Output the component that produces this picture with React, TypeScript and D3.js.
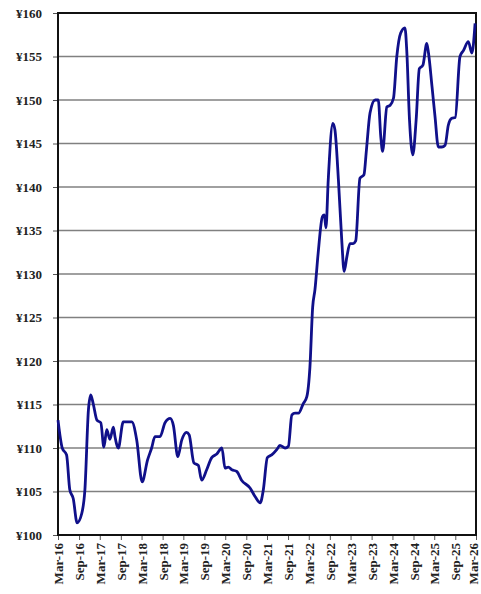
import { useEffect, useRef } from 'react';
import * as d3 from 'd3';

// USD/JPY
const dates = [
  '2016-03-01', '2016-04-07', '2016-05-15', '2016-06-12', '2016-07-12', '2016-08-15', '2016-09-25',
  '2016-10-22', '2016-11-22', '2016-12-12', '2017-01-04', '2017-02-04', '2017-03-10', '2017-04-06',
  '2017-05-01', '2017-05-28', '2017-06-28', '2017-07-12', '2017-08-10', '2017-09-22', '2017-12-06',
  '2018-01-18', '2018-03-06', '2018-04-22', '2018-05-28', '2018-06-26', '2018-08-09', '2018-09-22',
  '2018-11-06', '2018-12-04', '2019-01-12', '2019-02-15', '2019-03-29', '2019-04-21', '2019-06-01',
  '2019-07-10', '2019-08-08', '2019-09-21', '2019-11-04', '2019-12-18', '2020-02-01', '2020-02-28',
  '2020-03-28', '2020-04-28', '2020-06-10', '2020-07-22', '2020-10-04', '2020-11-18', '2021-01-01',
  '2021-01-28', '2021-03-04', '2021-04-11', '2021-05-25', '2021-06-22', '2021-08-06', '2021-09-04',
  '2021-10-04', '2021-11-01', '2021-12-01', '2022-01-12', '2022-02-12', '2022-03-11', '2022-04-04',
  '2022-04-24', '2022-05-22', '2022-06-28', '2022-07-15', '2022-07-29', '2022-08-18', '2022-09-27',
  '2022-10-15', '2022-11-15', '2022-12-14', '2023-01-04', '2023-01-28', '2023-02-24', '2023-03-24',
  '2023-04-15', '2023-05-22', '2023-06-26', '2023-07-18', '2023-08-18', '2023-10-01', '2023-10-29',
  '2023-11-20', '2023-12-06', '2024-01-12', '2024-02-10', '2024-03-10', '2024-04-08', '2024-05-12',
  '2024-06-18', '2024-07-04', '2024-07-28', '2024-08-26', '2024-09-24', '2024-10-22', '2024-11-22',
  '2024-12-26', '2025-01-10', '2025-02-10', '2025-03-08', '2025-04-06', '2025-05-06', '2025-06-04',
  '2025-07-02', '2025-08-01', '2025-09-01', '2025-10-12', '2025-11-12', '2025-12-24', '2026-01-24',
  '2026-02-21',
];

const rates = [
  113.2, 110.0, 109.2, 105.2, 104.2, 101.4, 102.5,
  105.2, 114.4, 116.1, 115.0, 113.2, 112.9, 110.1,
  112.1, 111.0, 112.4, 111.3, 110.0, 113.0, 113.0,
  110.9, 106.1, 108.6, 110.0, 111.3, 111.3, 112.9,
  113.4, 112.6, 109.0, 110.9, 111.8, 111.5, 108.3,
  108.0, 106.3, 107.5, 108.9, 109.3, 110.0, 107.7,
  107.8, 107.5, 107.3, 106.3, 105.4, 104.4, 103.7,
  105.2, 108.9, 109.2, 109.8, 110.3, 110.0, 110.2,
  113.8, 114.0, 114.0, 115.1, 115.9, 119.3, 126.2,
  128.2, 132.4, 136.6, 136.8, 135.3, 140.8, 147.3,
  146.6, 140.8, 133.9, 130.3, 132.0, 133.5, 133.5,
  133.8, 141.0, 141.4, 144.3, 148.5, 150.0, 150.0,
  145.8, 144.1, 149.2, 149.4, 150.2, 155.0, 157.7,
  158.3, 155.7, 147.7, 143.7, 147.7, 153.6, 154.0,
  156.5, 155.4, 151.5, 148.1, 144.6, 144.6, 144.8,
  147.1, 147.9, 148.0, 155.0, 155.7, 156.7, 155.4,
  158.8,
];

const yTicks = [100, 105, 110, 115, 120, 125, 130, 135, 140, 145, 150, 155, 160];

const xTickLabels = [
  'Mar-16', 'Sep-16', 'Mar-17', 'Sep-17', 'Mar-18', 'Sep-18', 'Mar-19', 'Sep-19', 'Mar-20', 'Sep-20',
  'Mar-21', 'Sep-21', 'Mar-22', 'Sep-22', 'Mar-23', 'Sep-23', 'Mar-24', 'Sep-24', 'Mar-25', 'Sep-25',
  'Mar-26',
];

const parseMonth = d3.timeParse('%b-%y');
const parseDay = d3.timeParse('%Y-%m-%d');

export default function App() {
  const svgRef = useRef<SVGSVGElement>(null);
  const width = 481;
  const height = 594;

  useEffect(() => {
    if (!svgRef.current) return;
    const svg = d3.select(svgRef.current);
    svg.selectAll('*').remove();

    const margin = { top: 13, right: 5, bottom: 59, left: 58 };
    const innerWidth = width - margin.left - margin.right;
    const innerHeight = height - margin.top - margin.bottom;

    const tickDates = xTickLabels.map(l => parseMonth(l) as Date);
    const data = dates.map((d, i) => ({ date: parseDay(d) as Date, value: rates[i] }));

    const x = d3.scaleTime()
      .domain([tickDates[0], tickDates[tickDates.length - 1]])
      .range([0, innerWidth]);

    const y = d3.scaleLinear()
      .domain([100, 160])
      .range([innerHeight, 0]);

    const g = svg.append('g')
      .attr('transform', `translate(${margin.left},${margin.top})`);

    // Grid lines
    g.append('g')
      .selectAll('line')
      .data(yTicks.slice(1, -1))
      .join('line')
      .attr('x1', 0)
      .attr('x2', innerWidth)
      .attr('y1', d => y(d))
      .attr('y2', d => y(d))
      .attr('stroke', '#808080')
      .attr('stroke-width', 1.5);

    // Y axis
    const yAxis = g.append('g')
      .call(d3.axisLeft(y)
        .tickValues(yTicks)
        .tickSize(5)
        .tickPadding(11)
        .tickFormat(d => `¥${d}`));
    yAxis.select('.domain').remove();
    yAxis.selectAll('line').attr('stroke', '#555').attr('stroke-width', 1);
    yAxis.selectAll('text')
      .attr('font-family', '"Liberation Serif", "Times New Roman", serif')
      .attr('font-size', '13px')
      .attr('font-weight', 'bold')
      .attr('fill', '#222');

    // X axis
    const xAxis = g.append('g')
      .attr('transform', `translate(0,${innerHeight})`)
      .call(d3.axisBottom(x)
        .tickValues(tickDates)
        .tickSize(5)
        .tickFormat((_, i) => xTickLabels[i]));
    xAxis.select('.domain').remove();
    xAxis.selectAll('line').attr('stroke', '#555').attr('stroke-width', 1);
    const lastIdx = xTickLabels.length - 1;
    xAxis.selectAll('text')
      .attr('font-family', '"Liberation Serif", "Times New Roman", serif')
      .attr('font-size', '13px')
      .attr('font-weight', 'bold')
      .attr('fill', '#222')
      .attr('text-anchor', 'end')
      // the last label would run past the window edge, nudge it in a little
      .attr('transform', (_, i) => `translate(${i === lastIdx ? -3 : 0},8) rotate(-90)`)
      .attr('x', 0)
      .attr('y', 0)
      .attr('dy', '0.35em');

    // Plot frame
    g.append('rect')
      .attr('x', 0)
      .attr('y', 0)
      .attr('width', innerWidth)
      .attr('height', innerHeight)
      .attr('fill', 'none')
      .attr('stroke', '#111')
      .attr('stroke-width', 2);

    // Rate line
    const line = d3.line<{ date: Date; value: number }>()
      .x(d => x(d.date))
      .y(d => y(d.value))
      .curve(d3.curveMonotoneX);

    g.append('path')
      .datum(data)
      .attr('d', line)
      .attr('fill', 'none')
      .attr('stroke', '#10108a')
      .attr('stroke-width', 2.8)
      .attr('stroke-linejoin', 'round');
  }, []);

  return (
    <svg
      ref={svgRef}
      width={width}
      height={height}
      style={{ position: 'absolute', left: 0, top: 0, background: '#fff', display: 'block' }}
    />
  );
}
